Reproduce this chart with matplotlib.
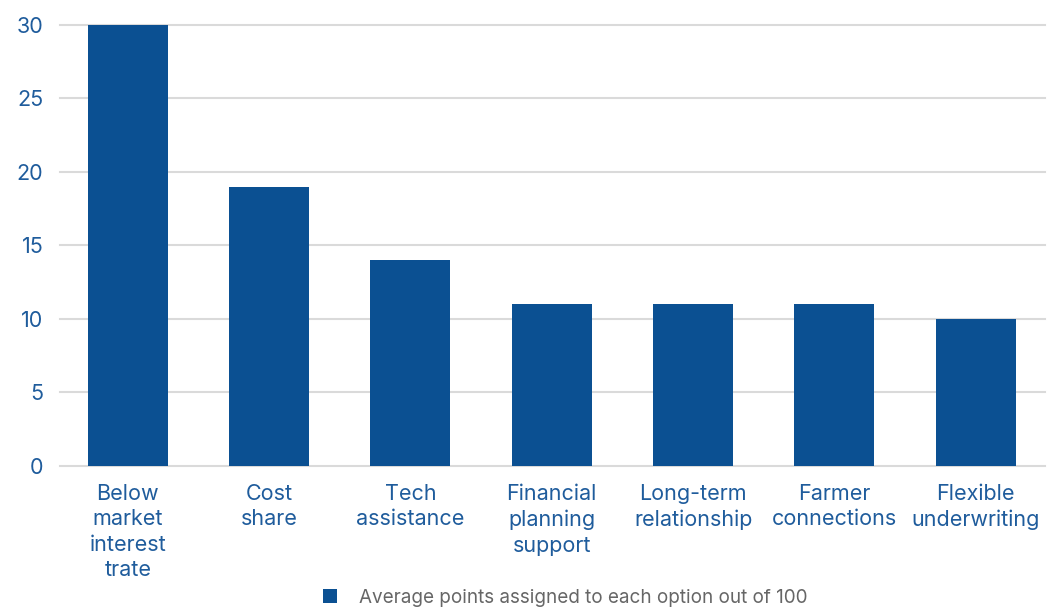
import matplotlib
matplotlib.use("Agg")
import matplotlib.pyplot as plt
from matplotlib.patches import Patch

# Average points assigned to each option out of 100
categories = [
    "Below\nmarket\ninterest\ntrate",
    "Cost\nshare",
    "Tech\nassistance",
    "Financial\nplanning\nsupport",
    "Long-term\nrelationship",
    "Farmer\nconnections",
    "Flexible\nunderwriting",
]
values = [30, 19, 14, 11, 11, 11, 10]
y_ticks = [0, 5, 10, 15, 20, 25, 30]
series_label = "Average points assigned to each option out of 100"

bar_color = "#0b5092"
text_blue = "#1f5c9c"
grid_color = "#dadada"

plt.rcParams["font.family"] = ["Inter", "DejaVu Sans"]

W, H = 1055, 611
fig = plt.figure(figsize=(W / 100, H / 100), dpi=100)
left, right, top, bottom = 60, 1045, 24.7, 466
ax = fig.add_axes([left / W, 1 - bottom / H, (right - left) / W, (bottom - top) / H])

x = list(range(len(categories)))
ax.bar(x, values, width=0.566, color=bar_color, zorder=3)

ax.set_xlim(-0.48, 6.49)
ax.set_ylim(0, 30)
ax.set_yticks(y_ticks)
ax.set_yticklabels([str(v) for v in y_ticks])
for v in y_ticks:
    ax.axhline(v, color=grid_color, linewidth=1.5, zorder=1, clip_on=False)

ax.set_xticks(x)
ax.set_xticklabels(categories, linespacing=1.34)
ax.tick_params(axis="x", length=0, pad=13, labelsize=15.5, labelcolor=text_blue)
ax.tick_params(axis="y", length=0, pad=12, labelsize=15.5, labelcolor=text_blue)
for lbl in ax.get_yticklabels():
    lbl.set_horizontalalignment("right")

for s in ax.spines.values():
    s.set_visible(False)

handle = Patch(facecolor=bar_color, edgecolor="none")
fig.legend(
    [handle], [series_label],
    loc="center", bbox_to_anchor=(565 / W, 1 - 598 / H),
    frameon=False, fontsize=13.6, labelcolor="#666666",
    handlelength=0.75, handleheight=0.75, handletextpad=1.15,
)

fig.savefig("out.png", dpi=100)
